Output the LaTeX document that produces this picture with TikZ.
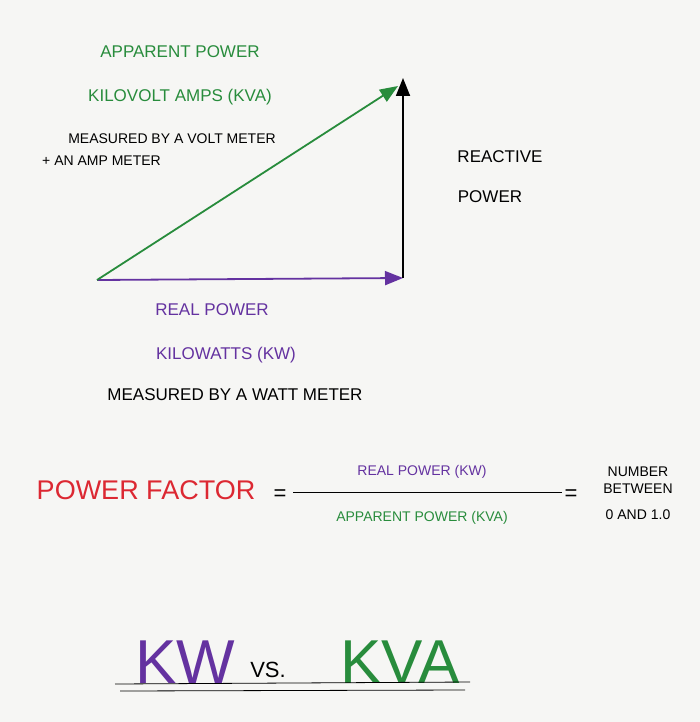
\documentclass[tikz,border=0pt]{standalone}
\usepackage{fontspec}
\setmainfont{Liberation Sans}
\usetikzlibrary{arrows.meta}
\definecolor{grn}{RGB}{40,140,60}
\definecolor{pur}{RGB}{100,50,160}
\definecolor{rd}{RGB}{220,40,50}
\definecolor{bg}{RGB}{246,246,244}
\newcommand{\fs}[1]{\fontsize{#1}{#1}\selectfont}
\tikzset{
 lbl/.style={font=\fs{17}, inner sep=0pt},
 sml/.style={font=\fs{14}, inner sep=0pt},
 big/.style={font=\fs{62}, inner sep=0pt},
 vec/.style={line width=1.8pt,-{Triangle[length=18pt,width=14pt]}}
}
\begin{document}
\begin{tikzpicture}[x=1pt,y=-1pt]
\fill[bg] (0,0) rectangle (700,722);
\useasboundingbox (0,0) rectangle (700,722);
\coordinate (o) at (97,280);
\coordinate (c) at (403,278);
\coordinate (t) at (403,78);
\draw[vec,pur] (o) -- (c);
\draw[vec,black] (c) -- (t);
\draw[vec,grn] (o) -- (398,86);
\node[lbl,grn] (ap) at (180,52) {APPARENT POWER};
\node[lbl,grn] (kva) at (180,97) {KILOVOLT AMPS (KVA)};
\node[sml] (mv) at (172,139) {MEASURED BY A VOLT METER};
\node[sml,anchor=west] (am) at (42,161) {+ AN AMP METER};
\node[lbl] (re) at (500,157) {REACTIVE};
\node[lbl] (rp) at (490,197) {POWER};
\node[lbl,pur] (rl) at (212,310) {REAL POWER};
\node[lbl,pur] (kw) at (226,355) {KILOWATTS (KW)};
\node[lbl] (mw) at (235,395) {MEASURED BY A WATT METER};
\node[rd,font=\fs{27},inner sep=0pt] (pf) at (146,490) {POWER FACTOR};
\node[lbl,font=\fs{22}] (eq1) at (280,495) {=};
\node[sml,pur] (num) at (422,472) {REAL POWER (KW)};
\draw[thick] (293,492) -- (562,492);
\node[sml,grn] (den) at (422,518) {APPARENT POWER (KVA)};
\node[lbl,font=\fs{22}] (eq2) at (571,495) {=};
\node[sml,align=center] (nb) at (638,493) {NUMBER\\[3pt]BETWEEN\\[12pt]0 AND 1.0};
\node[big,pur] (bkw) at (185,662) {KW};
\node[lbl,font=\fs{22}] (vs) at (268,670) {VS.};
\node[big,grn] (bkva) at (400,662) {KVA};
\draw[thick] (115,684) -- (470,682);
\draw[thick] (120,691) -- (465,690);
\end{tikzpicture}
\end{document}
